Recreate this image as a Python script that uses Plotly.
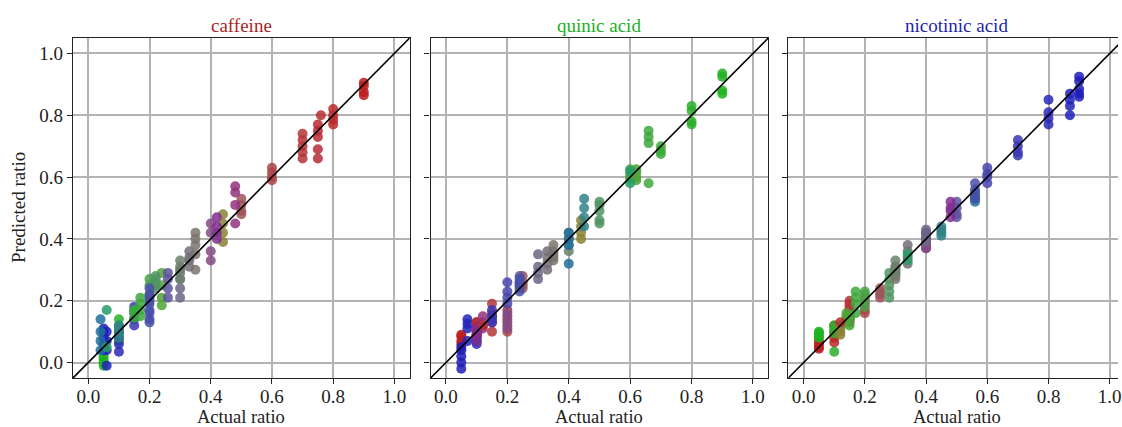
import math
import plotly.graph_objects as go

# ---------------- data ----------------
panel_titles = ["caffeine", "quinic acid", "nicotinic acid"]
title_colors = ["#ae1f1f", "#1fae1f", "#1f1fae"]
tick_vals = [0.0, 0.2, 0.4, 0.6, 0.8, 1.0]
x_title = "Actual ratio"
y_title = "Predicted ratio"

# actual composition of each sample group (caffeine, quinic acid, nicotinic acid)
caf_actual = [0.90, 0.05, 0.05, 0.80, 0.10, 0.06, 0.10, 0.75, 0.70, 0.60, 0.20, 0.20,
              0.15, 0.17, 0.15, 0.24, 0.50, 0.22, 0.26, 0.48, 0.40, 0.44, 0.42, 0.10,
              0.35, 0.30, 0.30, 0.33, 0.04, 0.20, 0.76, 0.06]
qui_actual = [0.05, 0.90, 0.05, 0.10, 0.80, 0.07, 0.10, 0.10, 0.15, 0.20, 0.60, 0.20,
              0.15, 0.66, 0.70, 0.62, 0.25, 0.50, 0.24, 0.12, 0.20, 0.44, 0.10, 0.45,
              0.35, 0.30, 0.40, 0.33, 0.40, 0.24, 0.12, 0.60]
nic_actual = [0.05, 0.05, 0.90, 0.10, 0.10, 0.87, 0.80, 0.15, 0.15, 0.20, 0.20, 0.60,
              0.70, 0.17, 0.15, 0.14, 0.25, 0.28, 0.50, 0.40, 0.40, 0.12, 0.48, 0.45,
              0.30, 0.40, 0.30, 0.34, 0.56, 0.56, 0.12, 0.34]

# predicted ratios of the replicates in each group
caf_pred = [[0.905, 0.895, 0.875, 0.865], [0.00, -0.01, 0.01, 0.02], [0.10, 0.08, 0.06, 0.04, 0.11],
            [0.82, 0.80, 0.785, 0.77], [0.14, 0.12, 0.09, 0.07], [0.10, 0.07, 0.04, -0.01],
            [0.035, 0.06, 0.10, 0.08], [0.77, 0.75, 0.73, 0.69, 0.66], [0.74, 0.72, 0.70, 0.68, 0.66],
            [0.63, 0.615, 0.60, 0.59], [0.27, 0.25, 0.22, 0.20], [0.21, 0.19, 0.16, 0.14],
            [0.18, 0.16, 0.14, 0.12], [0.21, 0.19, 0.17, 0.15], [0.17, 0.145, 0.165],
            [0.29, 0.25, 0.21, 0.185], [0.53, 0.51, 0.49, 0.48], [0.28, 0.27, 0.25, 0.24, 0.26],
            [0.29, 0.27, 0.24, 0.21], [0.57, 0.55, 0.51, 0.45], [0.45, 0.42, 0.36, 0.33],
            [0.48, 0.45, 0.42, 0.39], [0.47, 0.44, 0.42, 0.40], [0.12, 0.10, 0.08, 0.11],
            [0.42, 0.40, 0.38, 0.35, 0.30], [0.30, 0.27, 0.24, 0.21], [0.33, 0.31, 0.29, 0.27],
            [0.33, 0.31, 0.36, 0.34], [0.14, 0.10, 0.07, 0.04], [0.24, 0.22, 0.17, 0.13],
            [0.80], [0.17, 0.05]]
qui_pred = [[0.07, 0.085, 0.06, 0.09], [0.935, 0.925, 0.88, 0.87], [-0.02, 0.00, 0.02, 0.04, 0.05],
            [0.13, 0.115, 0.10, 0.085], [0.83, 0.815, 0.78, 0.77], [0.14, 0.125, 0.11, 0.07],
            [0.06, 0.08, 0.09, 0.07], [0.12, 0.10, 0.11, 0.09, 0.13], [0.19, 0.15, 0.13, 0.10, 0.16],
            [0.17, 0.14, 0.12, 0.10], [0.625, 0.60, 0.595, 0.61], [0.26, 0.23, 0.21, 0.19],
            [0.17, 0.15, 0.14, 0.13], [0.75, 0.73, 0.71, 0.58], [0.70, 0.685, 0.675],
            [0.60, 0.615, 0.59, 0.625], [0.28, 0.26, 0.25, 0.24], [0.52, 0.51, 0.49, 0.46, 0.45],
            [0.28, 0.26, 0.24, 0.25], [0.11, 0.13, 0.15, 0.12], [0.16, 0.13, 0.11, 0.15],
            [0.44, 0.46, 0.42, 0.40], [0.09, 0.07, 0.10, 0.11], [0.53, 0.50, 0.47, 0.44],
            [0.38, 0.36, 0.34, 0.33, 0.35], [0.35, 0.31, 0.29, 0.27], [0.42, 0.40, 0.38, 0.36],
            [0.32, 0.30, 0.34, 0.36], [0.42, 0.40, 0.38, 0.32], [0.27, 0.25, 0.23, 0.26],
            [0.12], [0.58, 0.62]]
nic_pred = [[0.045, 0.06, 0.07, 0.05], [0.10, 0.085, 0.095, 0.08], [0.925, 0.91, 0.885, 0.87, 0.86],
            [0.12, 0.10, 0.08, 0.065], [0.12, 0.11, 0.095, 0.035], [0.87, 0.85, 0.83, 0.80],
            [0.85, 0.81, 0.79, 0.77], [0.17, 0.15, 0.19, 0.14, 0.16], [0.20, 0.18, 0.16, 0.14, 0.13],
            [0.21, 0.19, 0.17, 0.16], [0.22, 0.20, 0.18, 0.23], [0.63, 0.61, 0.60, 0.58],
            [0.72, 0.70, 0.68, 0.67], [0.23, 0.21, 0.19, 0.16], [0.12, 0.15, 0.14],
            [0.15, 0.13, 0.16, 0.14], [0.24, 0.22, 0.21, 0.23], [0.29, 0.27, 0.25, 0.23, 0.21],
            [0.52, 0.50, 0.48, 0.47], [0.42, 0.40, 0.385, 0.37], [0.42, 0.40, 0.38, 0.37],
            [0.10, 0.12, 0.09, 0.11], [0.52, 0.50, 0.49, 0.47], [0.44, 0.43, 0.42, 0.41],
            [0.30, 0.28, 0.31, 0.29, 0.27], [0.43, 0.41, 0.40, 0.39], [0.33, 0.30, 0.29, 0.31],
            [0.36, 0.34, 0.32, 0.38], [0.54, 0.53, 0.52, 0.535], [0.58, 0.56, 0.55, 0.53],
            [0.13], [0.35, 0.33]]

# ---------------- colours from composition ----------------
def mix_color(c, q, n):
    norm = math.sqrt(c * c + q * q + n * n)
    r = 22 + 165 * c / norm
    g = 22 + 155 * q / norm
    b = 22 + 165 * n / norm
    return f"rgb({r:.0f},{g:.0f},{b:.0f})"

group_colors = [mix_color(c, q, n) for c, q, n in zip(caf_actual, qui_actual, nic_actual)]

actuals = [caf_actual, qui_actual, nic_actual]
preds = [caf_pred, qui_pred, nic_pred]

FONT = "Liberation Serif"
TXT = "#222222"
fig = go.Figure()

domains = [[0.0, 0.3222], [0.3422, 0.6654], [0.6845, 1.0]]
x_ranges = [[-0.05, 1.05], [-0.05, 1.05], [-0.05, 1.027]]

for p in range(3):
    xs, ys, cols = [], [], []
    for gi, reps in enumerate(preds[p]):
        for v in reps:
            xs.append(actuals[p][gi])
            ys.append(v)
            cols.append(group_colors[gi])
    suffix = "" if p == 0 else str(p + 1)
    fig.add_trace(go.Scatter(
        x=xs, y=ys, mode="markers", xaxis="x" + suffix, yaxis="y" + suffix,
        marker=dict(size=10, color=cols, opacity=0.85, line=dict(width=0)),
        showlegend=False, hoverinfo="skip"))
    fig.add_trace(go.Scatter(
        x=[-0.05, 1.05], y=[-0.05, 1.05], mode="lines", xaxis="x" + suffix, yaxis="y" + suffix,
        line=dict(color="black", width=1.6), showlegend=False, hoverinfo="skip"))

    axis_common = dict(
        tickvals=tick_vals, ticktext=[f"{t:.1f}" for t in tick_vals],
        showgrid=True, gridcolor="#b3b3b3", gridwidth=1.5,
        showline=True, linecolor="#222222", linewidth=1.2, mirror=True,
        ticks="outside", ticklen=5, tickwidth=1.2, tickcolor="#222222",
        zeroline=False, tickfont=dict(family=FONT, size=19, color=TXT),
        ticklabeloverflow="allow",
    )
    fig.layout["xaxis" + suffix] = dict(
        axis_common, domain=domains[p], range=x_ranges[p], anchor="y" + suffix,
        ticklabelstandoff=-4)
    yax = dict(axis_common, domain=[0, 1], range=[-0.05, 1.05], anchor="x" + suffix)
    if p > 0:
        yax["showticklabels"] = False
    if p == 2:
        yax["mirror"] = False  # right frame edge lies beyond the visible page
    fig.layout["yaxis" + suffix] = yax

    xc = 0.5 if p < 2 else 0.5 * 338 / 331
    fig.add_annotation(
        text=panel_titles[p], xref="x" + suffix + " domain", yref="paper",
        x=xc, y=1.0, yshift=0, xanchor="center", yanchor="bottom",
        showarrow=False, font=dict(family=FONT, size=19, color=title_colors[p]))
    fig.add_annotation(
        text=x_title, xref="x" + suffix + " domain", yref="paper",
        x=xc, y=0.0, yshift=-39, xanchor="center", yanchor="middle",
        showarrow=False, font=dict(family=FONT, size=18.5, color=TXT))

fig.add_annotation(
    text=y_title, xref="paper", yref="paper", x=0.0, y=0.5, xshift=-55,
    xanchor="center", yanchor="middle", textangle=-90,
    showarrow=False, font=dict(family=FONT, size=19, color=TXT))

fig.update_layout(
    width=1122, height=427,
    margin=dict(l=73, r=0, t=38, b=49),
    plot_bgcolor="white", paper_bgcolor="white",
)

fig.write_html("out.html", config={"displayModeBar": False},
               post_script="document.body.style.margin='0px';")
